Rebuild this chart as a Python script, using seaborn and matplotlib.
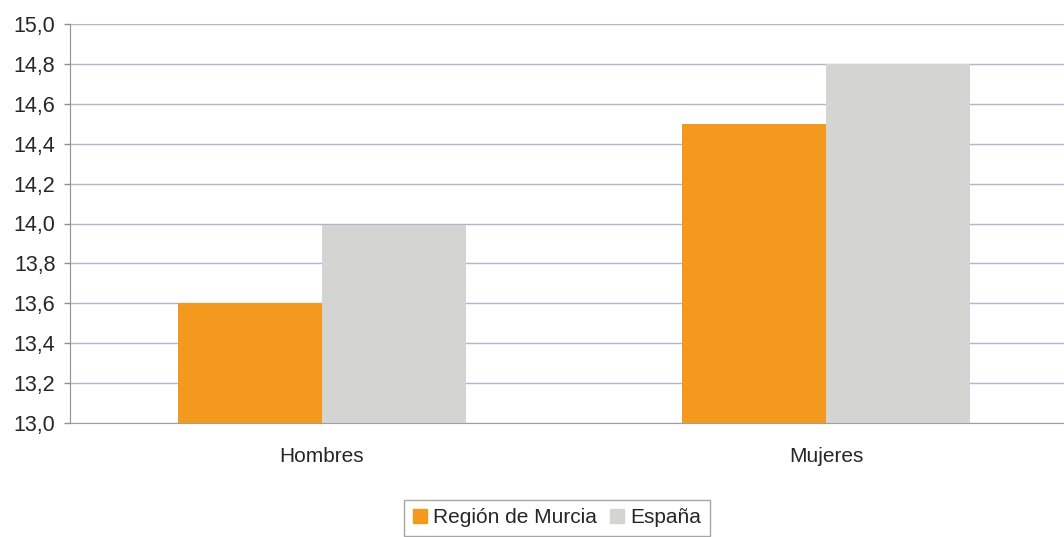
import matplotlib
matplotlib.use("Agg")
import matplotlib.pyplot as plt
import seaborn as sns
import pandas as pd

categorias = ["Hombres", "Mujeres"]
murcia = [13.6, 14.5]
espana = [13.99, 14.8]
series = ["Región de Murcia", "España"]
colores = ["#F39A1E", "#D4D4D3"]
yticks = [13.0, 13.2, 13.4, 13.6, 13.8, 14.0, 14.2, 14.4, 14.6, 14.8, 15.0]

df = pd.DataFrame({
    "cat": categorias * 2,
    "serie": [series[0]] * 2 + [series[1]] * 2,
    "valor": murcia + espana,
})

sns.set_style("white")
plt.rcParams["font.family"] = ["Liberation Sans", "DejaVu Sans"]

fig = plt.figure(figsize=(10.64, 5.37), dpi=100)
ax = fig.add_axes([70 / 1064, 1 - 423 / 537, 1008 / 1064, 399 / 537])

sns.barplot(data=df, x="cat", y="valor", hue="serie", palette=colores,
            saturation=1, width=0.571, gap=0, edgecolor="none", ax=ax,
            legend=True)

ax.set_ylim(13.0, 15.0)
ax.set_xlim(-0.5, 1.5)
ax.set_yticks(yticks)
ax.set_yticklabels([f"{v:.1f}".replace(".", ",") for v in yticks], fontsize=15.5)
ax.yaxis.grid(True, color="#B8B0CC", linewidth=1)
ax.set_axisbelow(True)

ax.set_xticks([-0.5, 0.5, 1.5])
ax.set_xticklabels([])
ax.set_xticks([0, 1], minor=True)
ax.set_xticklabels(categorias, minor=True, fontsize=15)
ax.tick_params(axis="x", which="minor", length=0, pad=17)
ax.tick_params(axis="x", which="major", length=4.5, color="#909090", width=1)
ax.tick_params(axis="y", length=4.5, color="#909090", width=1, pad=6, left=True)
ax.set_xlabel("")
ax.set_ylabel("")

for s in ["top", "right"]:
    ax.spines[s].set_visible(False)
ax.spines["left"].set_color("#909090")
ax.spines["bottom"].set_color("#A0A0A0")

ax.get_legend().remove()
handles = [plt.Rectangle((0, 0), 1, 1, color=c) for c in colores]
leg = fig.legend(handles, series, loc="upper center",
                 bbox_to_anchor=(557 / 1064, 1 - 500 / 537), ncol=2,
                 fontsize=15, frameon=True, fancybox=False, edgecolor="#909090",
                 handlelength=0.7, handleheight=0.7, handletextpad=0.3,
                 columnspacing=0.6, borderpad=0.4, borderaxespad=0)
leg.get_frame().set_linewidth(1)

fig.savefig("out.png", dpi=100)
